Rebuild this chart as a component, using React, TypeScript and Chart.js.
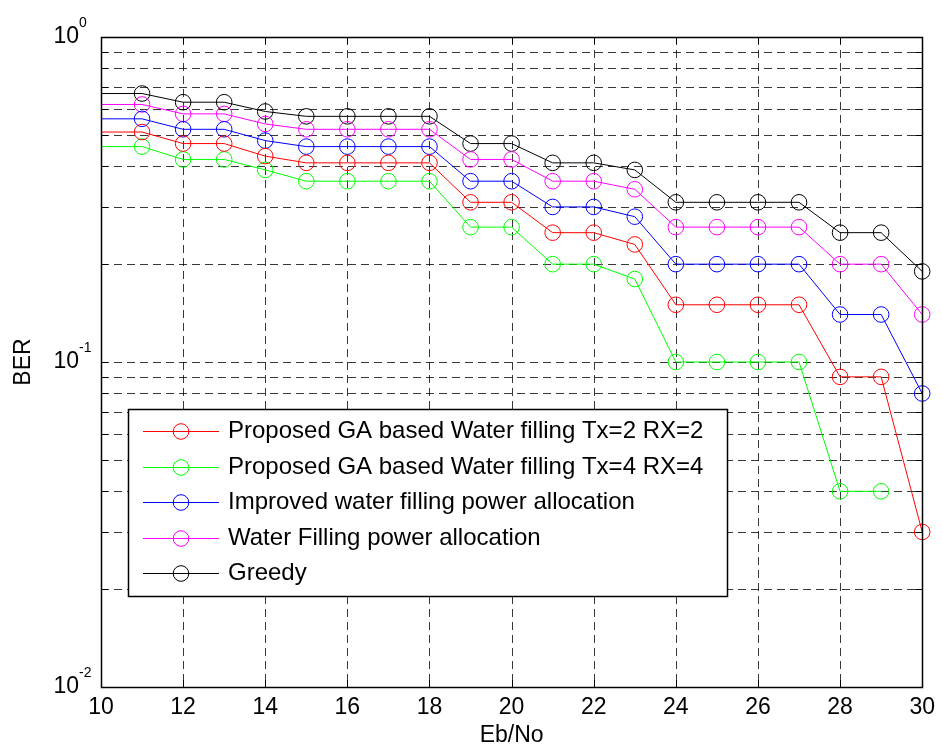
import React, { useEffect, useRef } from 'react';
import { Chart, registerables } from 'chart.js';

Chart.register(...registerables);

const FONT = '"Liberation Sans", Arial, Helvetica, sans-serif';

// ---- data ----
const ebNo = [10, 11, 12, 13, 14, 15, 16, 17, 18, 19, 20, 21, 22, 23, 24, 25, 26, 27, 28, 29, 30];
const xTickValues = [10, 12, 14, 16, 18, 20, 22, 24, 26, 28, 30];
const yTickValues = [0.01, 0.02, 0.03, 0.04, 0.05, 0.06, 0.07, 0.08, 0.09, 0.1, 0.2, 0.3, 0.4, 0.5, 0.6, 0.7, 0.8, 0.9, 1];
const yMajorTicks = [0.01, 0.1, 1];
const yMajorExponents = ['-2', '-1', '0'];

const gaTx2Rx2 = [0.51, 0.51, 0.47, 0.47, 0.43, 0.41, 0.41, 0.41, 0.41, 0.31, 0.31, 0.25, 0.25, 0.23, 0.15, 0.15, 0.15, 0.15, 0.09, 0.09, 0.03];
const gaTx4Rx4 = [0.46, 0.46, 0.42, 0.42, 0.39, 0.36, 0.36, 0.36, 0.36, 0.26, 0.26, 0.2, 0.2, 0.18, 0.1, 0.1, 0.1, 0.1, 0.04, 0.04, null];
const improvedWF = [0.56, 0.56, 0.52, 0.52, 0.48, 0.46, 0.46, 0.46, 0.46, 0.36, 0.36, 0.3, 0.3, 0.28, 0.2, 0.2, 0.2, 0.2, 0.14, 0.14, 0.08];
const waterFilling = [0.62, 0.62, 0.58, 0.58, 0.54, 0.52, 0.52, 0.52, 0.52, 0.42, 0.42, 0.36, 0.36, 0.34, 0.26, 0.26, 0.26, 0.26, 0.2, 0.2, 0.14];
const greedy = [0.67, 0.67, 0.63, 0.63, 0.59, 0.57, 0.57, 0.57, 0.57, 0.47, 0.47, 0.41, 0.41, 0.39, 0.31, 0.31, 0.31, 0.31, 0.25, 0.25, 0.19];

const seriesNames = [
  'Proposed GA based Water filling Tx=2 RX=2',
  'Proposed GA based Water filling Tx=4 RX=4',
  'Improved water filling power allocation',
  'Water Filling power allocation',
  'Greedy',
];
const seriesValues = [gaTx2Rx2, gaTx4Rx4, improvedWF, waterFilling, greedy];
const seriesColors = ['#ff0000', '#00ff00', '#0000ff', '#ff00ff', '#000000'];

const MARKER_R = 7.8;

const matlabPlugin = {
  id: 'matlabAxes',
  beforeDatasetsDraw(chart: any) {
    const { ctx, chartArea: a, scales } = chart;
    const x = scales.x;
    const y = scales.y;
    ctx.save();
    ctx.strokeStyle = 'rgba(0,0,0,0.78)';
    ctx.lineWidth = 1;
    ctx.setLineDash([8, 5]);
    for (const v of xTickValues) {
      if (v <= 10 || v >= 30) continue;
      const px = Math.round(x.getPixelForValue(v)) + 0.5;
      ctx.beginPath();
      ctx.moveTo(px, a.top);
      ctx.lineTo(px, a.bottom);
      ctx.stroke();
    }
    for (const v of yTickValues) {
      if (v <= 0.01 || v >= 1) continue;
      const py = Math.round(y.getPixelForValue(v)) + 0.5;
      ctx.beginPath();
      ctx.moveTo(a.left, py);
      ctx.lineTo(a.right, py);
      ctx.stroke();
    }
    ctx.restore();
  },
  afterDatasetsDraw(chart: any) {
    const { ctx, chartArea: a, scales } = chart;
    const x = scales.x;
    const y = scales.y;
    ctx.save();
    ctx.setLineDash([]);
    ctx.strokeStyle = '#000';
    ctx.lineWidth = 1;
    const T = 7;
    for (const v of xTickValues) {
      const px = Math.round(x.getPixelForValue(v)) + 0.5;
      ctx.beginPath();
      ctx.moveTo(px, a.bottom);
      ctx.lineTo(px, a.bottom - T);
      ctx.moveTo(px, a.top);
      ctx.lineTo(px, a.top + T);
      ctx.stroke();
    }
    for (const v of yTickValues) {
      const py = Math.round(y.getPixelForValue(v)) + 0.5;
      ctx.beginPath();
      ctx.moveTo(a.left, py);
      ctx.lineTo(a.left + T, py);
      ctx.moveTo(a.right, py);
      ctx.lineTo(a.right - T, py);
      ctx.stroke();
    }
    ctx.lineWidth = 1.5;
    ctx.strokeRect(Math.round(a.left) + 0.5, Math.round(a.top) + 0.5, Math.round(a.right - a.left), Math.round(a.bottom - a.top));
    // y tick labels with superscripts
    ctx.fillStyle = '#000';
    yMajorTicks.forEach((v, i) => {
      const py = y.getPixelForValue(v);
      ctx.font = `23px ${FONT}`;
      ctx.textAlign = 'right';
      ctx.textBaseline = 'middle';
      ctx.fillText('10', a.left - 22, py - 0.5);
      ctx.font = `14px ${FONT}`;
      ctx.textAlign = 'left';
      ctx.fillText(yMajorExponents[i], a.left - 22, py - 14);
    });
    ctx.restore();
  },
  afterDraw(chart: any) {
    const { ctx } = chart;
    const left = 128;
    const top = 409;
    const right = 727;
    const bottom = 596;
    const rowH = 35.5;
    const firstY = 431;
    ctx.save();
    ctx.setLineDash([]);
    ctx.fillStyle = '#fff';
    ctx.fillRect(left, top, right - left, bottom - top);
    ctx.strokeStyle = '#000';
    ctx.lineWidth = 1.5;
    ctx.strokeRect(left + 0.5, top + 0.5, right - left, bottom - top);
    seriesNames.forEach((name, i) => {
      const cy = Math.round(firstY + i * rowH) + 0.5;
      ctx.strokeStyle = seriesColors[i];
      ctx.lineWidth = 1;
      ctx.beginPath();
      ctx.moveTo(143, cy);
      ctx.lineTo(219, cy);
      ctx.stroke();
      ctx.beginPath();
      ctx.arc(181, cy, MARKER_R, 0, Math.PI * 2);
      ctx.stroke();
      ctx.fillStyle = '#000';
      ctx.font = `24px ${FONT}`;
      ctx.textAlign = 'left';
      ctx.textBaseline = 'middle';
      ctx.fillText(name, 228, cy);
    });
    ctx.restore();
  },
};

export default function App() {
  const canvasRef = useRef<HTMLCanvasElement | null>(null);

  useEffect(() => {
    document.body.style.margin = '0';
    const canvas = canvasRef.current;
    if (!canvas) return;
    const datasets = seriesValues.map((vals, i) => ({
      label: seriesNames[i],
      data: ebNo.map((xv, j) => ({ x: xv, y: vals[j] })),
      borderColor: seriesColors[i],
      backgroundColor: 'rgba(0,0,0,0)',
      pointBorderColor: seriesColors[i],
      pointBackgroundColor: 'rgba(0,0,0,0)',
      borderWidth: 1,
      pointBorderWidth: 1,
      pointRadius: (c: any) => (c.raw && c.raw.x > 10 ? MARKER_R : 0),
      pointStyle: 'circle',
      tension: 0,
      spanGaps: false,
      clip: false as any,
    }));
    const chart = new Chart(canvas, {
      type: 'line',
      data: { datasets },
      plugins: [matlabPlugin],
      options: {
        animation: false,
        responsive: false,
        maintainAspectRatio: false,
        events: [],
        layout: { padding: { top: 37, right: 15, left: 0, bottom: 0 } },
        plugins: {
          legend: { display: false },
          tooltip: { enabled: false },
        },
        scales: {
          x: {
            type: 'linear',
            min: 10,
            max: 30,
            afterBuildTicks: (s: any) => {
              s.ticks = xTickValues.map((v) => ({ value: v }));
            },
            afterFit: (s: any) => {
              s.height = 62;
            },
            grid: { display: false, drawTicks: false },
            border: { display: false },
            ticks: {
              color: '#000',
              font: { family: FONT, size: 23 },
              padding: 7,
              maxRotation: 0,
              autoSkip: false,
            },
            title: {
              display: true,
              text: 'Eb/No',
              color: '#000',
              font: { family: FONT, size: 23 },
              padding: { top: 0, bottom: 0 },
            },
          },
          y: {
            type: 'logarithmic',
            min: 0.01,
            max: 1,
            afterBuildTicks: (s: any) => {
              s.ticks = yTickValues.map((v) => ({ value: v }));
            },
            afterFit: (s: any) => {
              s.width = 101;
            },
            grid: { display: false, drawTicks: false },
            border: { display: false },
            ticks: {
              callback: () => '',
              autoSkip: false,
            },
            title: {
              display: true,
              text: 'BER',
              color: '#000',
              font: { family: FONT, size: 23 },
              padding: { top: 10, bottom: 0 },
            },
          },
        },
      },
    });
    return () => chart.destroy();
  }, []);

  return (
    <div style={{ width: 942, height: 749 }}>
      <canvas ref={canvasRef} width={942} height={749} style={{ display: 'block' }} />
    </div>
  );
}
